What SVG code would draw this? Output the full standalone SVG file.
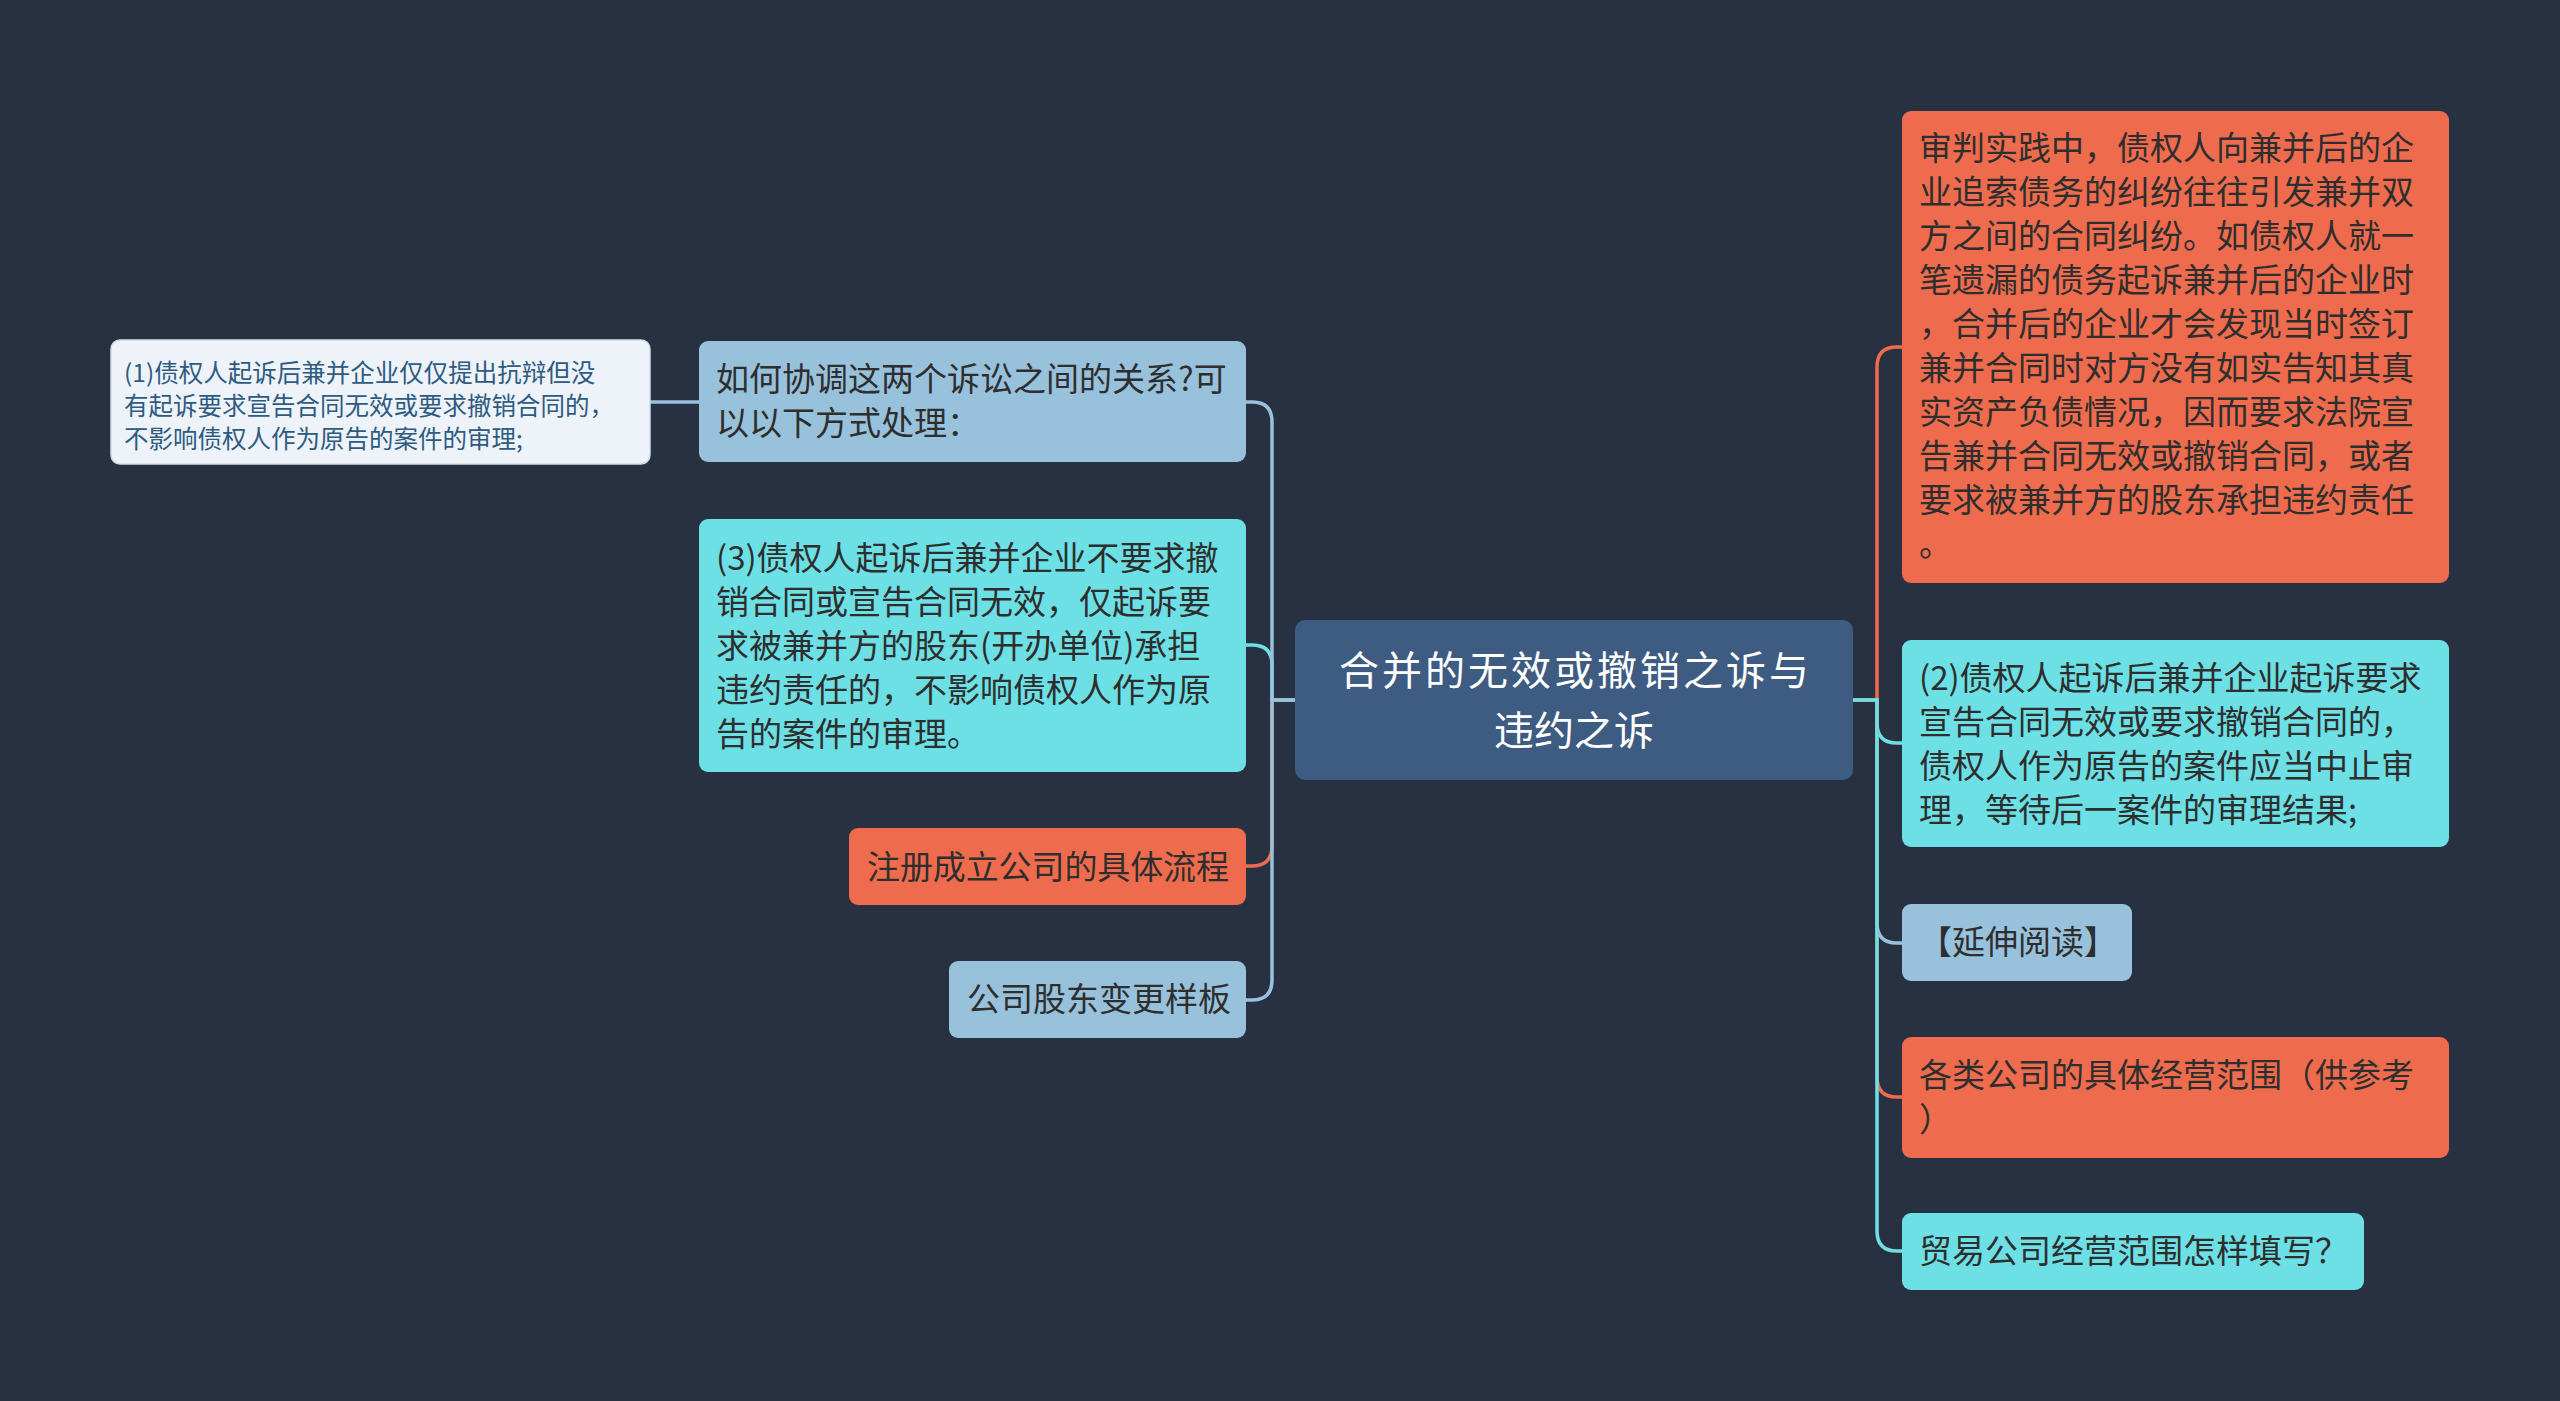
<svg xmlns="http://www.w3.org/2000/svg" width="2560" height="1401" viewBox="0 0 2560 1401">
<style>
text{font-family:'Noto Sans CJK SC','Noto Sans',sans-serif;}
.t33{font-size:33px;fill:#2e2e2e;}
.center{font-size:40px;fill:#ffffff;text-anchor:middle;}
.leaf{font-size:24.5px;fill:#2d5b82;}
.orange{fill:#ee6c4d;}
.cyan{fill:#6de0e5;}
.lblue{fill:#98c1dc;}
.edge{fill:none;stroke-width:3.5;}
</style>
<rect x="0" y="0" width="2560" height="1401" fill="#283141"/>
<g id="connectors">
<path class="edge" stroke="#98c1dc" d="M699 402 H650"/>
<path class="edge" stroke="#6de0e5" d="M1295 700 H1272 V665 Q1272 645 1252 645 H1246"/>
<path class="edge" stroke="#ee6c4d" d="M1295 700 H1272 V846 Q1272 866 1252 866 H1246"/>
<path class="edge" stroke="#98c1dc" d="M1295 700 H1272 V422 Q1272 402 1252 402 H1246"/>
<path class="edge" stroke="#98c1dc" d="M1295 700 H1272 V980 Q1272 1000 1252 1000 H1246"/>
<path class="edge" stroke="#ee6c4d" d="M1853 700 H1877 V367 Q1877 347 1897 347 H1902"/>
<path class="edge" stroke="#6de0e5" d="M1853 700 H1877 V723 Q1877 743 1897 743 H1902"/>
<path class="edge" stroke="#98c1dc" d="M1853 700 H1877 V923 Q1877 943 1897 943 H1902"/>
<path class="edge" stroke="#ee6c4d" d="M1853 700 H1877 V1077 Q1877 1097 1897 1097 H1902"/>
<path class="edge" stroke="#6de0e5" d="M1853 700 H1877 V1231 Q1877 1251 1897 1251 H1902"/>
</g>
<g id="center">
<rect x="1295" y="620" width="558" height="160" rx="10" fill="#3e5b81"/>
<text class="center"><tspan x="1574" y="685" textLength="470" lengthAdjust="spacing">合并的无效或撤销之诉与</tspan><tspan x="1574" y="745">违约之诉</tspan></text>
</g>
<g id="n-leaf1">
<rect x="111" y="340" width="539" height="124" rx="9" fill="#edf3f8" stroke="#cfdde9" stroke-width="1.5"/>
<text class="leaf" x="124" y="382">(1)债权人起诉后兼并企业仅仅提出抗辩但没</text>
<text class="leaf" x="124" y="415">有起诉要求宣告合同无效或要求撤销合同的，</text>
<text class="leaf" x="124" y="448">不影响债权人作为原告的案件的审理;</text>
</g>
<g id="n-howto">
<rect x="699" y="341" width="547" height="121" rx="9" class="lblue"/>
<text class="t33" x="716" y="391">如何协调这两个诉讼之间的关系?可</text>
<text class="t33" x="716" y="435">以以下方式处理：</text>
</g>
<g id="n-three">
<rect x="699" y="519" width="547" height="253" rx="9" class="cyan"/>
<text class="t33" x="716" y="570">(3)债权人起诉后兼并企业不要求撤</text>
<text class="t33" x="716" y="614">销合同或宣告合同无效，仅起诉要</text>
<text class="t33" x="716" y="658">求被兼并方的股东(开办单位)承担</text>
<text class="t33" x="716" y="702">违约责任的，不影响债权人作为原</text>
<text class="t33" x="716" y="746">告的案件的审理。</text>
</g>
<g id="n-register">
<rect x="849" y="828" width="397" height="77" rx="9" class="orange"/>
<text class="t33" x="867" y="879" textLength="362" lengthAdjust="spacing">注册成立公司的具体流程</text>
</g>
<g id="n-shareholder">
<rect x="949" y="961" width="297" height="77" rx="9" class="lblue"/>
<text class="t33" x="967" y="1011">公司股东变更样板</text>
</g>
<g id="n-practice">
<rect x="1902" y="111" width="547" height="472" rx="9" class="orange"/>
<text class="t33" x="1919" y="160">审判实践中，债权人向兼并后的企</text>
<text class="t33" x="1919" y="204">业追索债务的纠纷往往引发兼并双</text>
<text class="t33" x="1919" y="248">方之间的合同纠纷。如债权人就一</text>
<text class="t33" x="1919" y="292">笔遗漏的债务起诉兼并后的企业时</text>
<text class="t33" x="1919" y="336">，合并后的企业才会发现当时签订</text>
<text class="t33" x="1919" y="380">兼并合同时对方没有如实告知其真</text>
<text class="t33" x="1919" y="424">实资产负债情况，因而要求法院宣</text>
<text class="t33" x="1919" y="468">告兼并合同无效或撤销合同，或者</text>
<text class="t33" x="1919" y="512">要求被兼并方的股东承担违约责任</text>
<text class="t33" x="1919" y="556">。</text>
</g>
<g id="n-two">
<rect x="1902" y="640" width="547" height="207" rx="9" class="cyan"/>
<text class="t33" x="1919" y="690">(2)债权人起诉后兼并企业起诉要求</text>
<text class="t33" x="1919" y="734">宣告合同无效或要求撤销合同的，</text>
<text class="t33" x="1919" y="778">债权人作为原告的案件应当中止审</text>
<text class="t33" x="1919" y="822">理，等待后一案件的审理结果;</text>
</g>
<g id="n-extend">
<rect x="1902" y="904" width="230" height="77" rx="9" class="lblue"/>
<text class="t33" x="1919" y="954">【延伸阅读】</text>
</g>
<g id="n-scope">
<rect x="1902" y="1037" width="547" height="121" rx="9" class="orange"/>
<text class="t33" x="1919" y="1087">各类公司的具体经营范围（供参考</text>
<text class="t33" x="1919" y="1131">）</text>
</g>
<g id="n-trade">
<rect x="1902" y="1213" width="462" height="77" rx="9" class="cyan"/>
<text class="t33" x="1919" y="1263">贸易公司经营范围怎样填写？</text>
</g>
</svg>
